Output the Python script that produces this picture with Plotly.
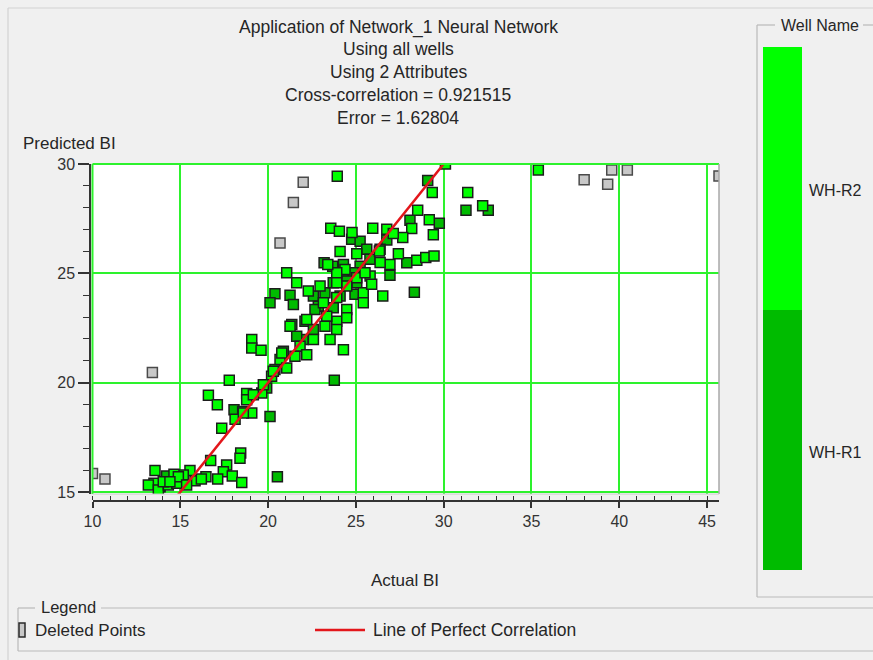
import plotly.graph_objects as go

# ---- data -------------------------------------------------------------
title_lines = [
    "Application of Network_1 Neural Network",
    "Using all wells",
    "Using 2 Attributes",
    "Cross-correlation = 0.921515",
    "Error = 1.62804",
]
x_ticks = [10, 15, 20, 25, 30, 35, 40, 45]
y_ticks = [15, 20, 25, 30]
well_names = ["WH-R2", "WH-R1"]
well_colors = ["#00ff00", "#00bb00"]

# WH-R2 samples (actual BI, predicted BI)
r2_actual = [35.39, 30.1, 31.37, 32.22, 29.35, 28.52, 29.18, 29.41, 28.18, 27.67,
             26.76, 27.13, 27.42, 26.94, 28.47, 28.98, 29.45, 26.38, 26.53, 23.94,
             23.57, 24.06, 24.78, 25.96, 24.1, 25.05, 26.34, 24.38, 23.91, 21.06,
             21.63, 22.29, 22.96, 23.91, 24.48, 25.42, 25.81, 25.42, 24.48, 22.2,
             23.91, 23.34, 25.9, 23.15, 24.48, 23.91, 23.53, 24.29, 21.25, 22.58,
             21.82, 22.2, 21.53, 20.68, 21.06, 20.2, 19.07, 19.07, 19.6, 17.79,
             20.78, 20.3, 19.64, 16.6, 17.11, 18.12, 18.78, 18.78, 19.07, 18.59,
             17.36, 19.16, 19.73, 16.73, 17.64, 18.44, 18.4, 17.45, 17.96, 18.5,
             17.13, 16.46, 15.84, 15.55, 15.17, 14.64, 13.56, 13.5, 13.18, 13.75,
             14.32, 14.8, 14.89, 14.03, 15.36, 16.2, 14.41, 23.24, 23.91, 25.05,
             25.52, 23.4]
r2_predicted = [29.72, 30.0, 28.7, 28.09, 28.7, 27.89, 27.45, 26.76, 27.05, 26.64,
                27.02, 26.82, 25.9, 25.41, 25.6, 25.72, 25.79, 25.5, 23.96, 29.44,
                27.06, 26.93, 26.87, 27.06, 26.0, 25.9, 26.02, 25.18, 25.03, 25.03,
                24.57, 24.19, 24.42, 23.89, 24.42, 24.11, 24.88, 23.66, 23.35, 22.89,
                22.81, 23.04, 24.5, 23.66, 22.97, 22.43, 21.97, 21.51, 22.58, 21.97,
                21.67, 21.28, 21.21, 21.06, 20.67, 20.29, 21.97, 21.59, 21.48, 20.11,
                21.36, 20.52, 19.53, 19.42, 18.99, 18.33, 19.5, 19.22, 18.61, 18.61,
                17.92, 19.45, 19.91, 16.44, 16.24, 16.78, 16.55, 15.93, 15.73, 15.44,
                15.6, 15.7, 15.52, 15.98, 15.78, 15.81, 15.98, 15.4, 15.32, 15.09,
                15.32, 15.4, 15.7, 15.47, 15.32, 15.6, 15.47, 22.58, 24.57, 24.8,
                25.03, 25.41]

# WH-R1 samples
r1_actual = [31.27, 32.54, 29.09, 29.75, 28.08, 26.76, 27.9, 26.94, 28.33, 26.38,
             24.76, 25.24, 25.62, 25.8, 23.19, 23.68, 25.24, 20.39, 20.11, 21.25,
             21.44, 22.58, 23.24, 23.71, 24.29, 25.05, 24.86, 23.71, 22.86, 21.35,
             24.1, 24.95, 22.67, 22.1, 22.0, 20.87, 20.39, 23.77, 21.63, 19.92,
             18.06, 20.11, 18.55, 14.22, 13.85, 20.53, 22.58, 24.48, 24.29]
r1_predicted = [27.88, 27.88, 29.24, 27.29, 27.43, 26.53, 25.49, 24.91, 24.14, 26.1,
                26.56, 26.47, 26.1, 25.64, 25.49, 25.33, 25.33, 24.07, 23.66, 24.0,
                23.58, 23.96, 24.11, 24.57, 24.88, 24.57, 25.03, 23.43, 23.5, 22.66,
                23.96, 24.04, 23.35, 22.81, 21.97, 21.44, 20.6, 20.11, 22.12, 19.76,
                18.76, 18.45, 18.68, 15.73, 15.24, 15.7, 22.43, 24.65, 25.41]

# points removed from training
deleted_actual = [10.0, 10.71, 13.41, 20.68, 21.44, 22.0, 38.0, 39.34, 39.57, 40.46, 45.68]
deleted_predicted = [15.85, 15.6, 20.47, 26.39, 28.24, 29.16, 29.28, 29.07, 29.72, 29.72, 29.45]

perfect_x = [14.85, 30.0]
perfect_y = [14.85, 30.0]

# ---- page geometry (pixels) ------------------------------------------
W, H = 873, 660
PX0, PX1 = 80, 719     # paper area, horizontal
PY0, PY1 = 164, 510    # paper area, vertical


def fx(px):
    return (px - PX0) / (PX1 - PX0)


def fy(py):
    return (PY1 - py) / (PY1 - PY0)


FONT = "Liberation Sans, Arial, sans-serif"
TXT = "#262626"
GRID = "#2df22d"
FRAME = "#b9b9b9"

fig = go.Figure()

marker_line = dict(color="#1c1c1c", width=1.5)
fig.add_trace(go.Scatter(
    x=r1_actual, y=r1_predicted, mode="markers", name=well_names[1],
    marker=dict(symbol="square", size=10, color=well_colors[1], line=marker_line),
))
fig.add_trace(go.Scatter(
    x=r2_actual, y=r2_predicted, mode="markers", name=well_names[0],
    marker=dict(symbol="square", size=10, color=well_colors[0], line=marker_line),
))
fig.add_trace(go.Scatter(
    x=deleted_actual, y=deleted_predicted, mode="markers", name="Deleted Points",
    marker=dict(symbol="square", size=10, color="#c8c8c8",
                line=dict(color="#4a4a4a", width=1.5)),
))
fig.add_trace(go.Scatter(
    x=perfect_x, y=perfect_y, mode="lines", name="Line of Perfect Correlation",
    line=dict(color="#e3161b", width=2.5),
))

axis_common = dict(
    showline=True, linecolor="#333333", linewidth=1.5,
    showgrid=True, gridcolor=GRID, gridwidth=2, zeroline=False,
    tickfont=dict(family=FONT, size=16, color="#333333"),
    tickcolor="#333333", tickwidth=1.5,
)

fig.update_layout(
    width=W, height=H,
    margin=dict(l=PX0, r=W - PX1, t=PY0, b=H - PY1),
    paper_bgcolor="#f0f0f0", plot_bgcolor="white",
    showlegend=False,
    xaxis=dict(
        range=[10, 45.68], domain=[fx(92.5), 1], anchor="free", position=fy(501),
        tickvals=x_ticks, ticks="outside", ticklen=6,
        minor=dict(dtick=1, tick0=10, ticks="inside", ticklen=4,
                   tickcolor="#333333", tickwidth=1.2, showgrid=False),
        **axis_common,
    ),
    yaxis=dict(
        range=[14.91, 30], domain=[fy(494), 1], anchor="free", position=fx(90),
        tickvals=y_ticks, ticks="outside", ticklen=11,
        minor=dict(dtick=1, tick0=15, ticks="outside", ticklen=6,
                   tickcolor="#333333", tickwidth=1.2, showgrid=False),
        **axis_common,
    ),
)

shapes = []


def hline(x0, x1, y, color=FRAME, width=1.2):
    shapes.append(dict(type="line", xref="paper", yref="paper",
                       x0=fx(x0), x1=fx(x1), y0=fy(y), y1=fy(y),
                       line=dict(color=color, width=width)))


def vline(x, y0, y1, color=FRAME, width=1.2):
    shapes.append(dict(type="line", xref="paper", yref="paper",
                       x0=fx(x), x1=fx(x), y0=fy(y0), y1=fy(y1),
                       line=dict(color=color, width=width)))


def rect(x0, x1, y0, y1, fill, line_color=None, width=0):
    shapes.append(dict(type="rect", xref="paper", yref="paper",
                       x0=fx(x0), x1=fx(x1), y0=fy(y1), y1=fy(y0),
                       fillcolor=fill, line=dict(color=line_color or fill, width=width)))


# plot frame: green on the left/top, grey on the right/bottom
shapes.append(dict(type="line", xref="x domain", yref="y domain", x0=0, x1=0, y0=0, y1=1,
                   line=dict(color=GRID, width=2)))
shapes.append(dict(type="line", xref="x domain", yref="y domain", x0=0, x1=1, y0=1, y1=1,
                   line=dict(color=GRID, width=2)))
shapes.append(dict(type="line", xref="x domain", yref="y domain", x0=1, x1=1, y0=0, y1=1,
                   line=dict(color="#a8a8a8", width=1.5)))
shapes.append(dict(type="line", xref="x domain", yref="y domain", x0=0, x1=1, y0=0, y1=0,
                   line=dict(color="#c8c8c8", width=1)))

# window edge
hline(8, 873, 8, color="#d2d2d2")
vline(8, 8, 660, color="#d2d2d2")

# "Well Name" group box with the colour bar
vline(757, 25, 597)
hline(757, 873, 597)
hline(757, 775, 25)
hline(863, 873, 25)
rect(763, 802, 47, 310, well_colors[0])
rect(763, 802, 310, 570, well_colors[1])

# "Legend" group box
hline(18, 35, 608)
hline(101, 873, 608)
vline(18, 608, 651)
hline(18, 873, 651)
rect(19, 25, 623, 637, "#c8c8c8", "#2a2a2a", 1.5)
hline(315, 365, 630, color="#e3161b", width=2.5)

annotations = []


def label(text, px, py, size=17, anchor="center", color=TXT):
    annotations.append(dict(text=text, xref="paper", yref="paper", x=fx(px), y=fy(py),
                            xanchor=anchor, yanchor="middle", showarrow=False,
                            font=dict(family=FONT, size=size, color=color)))


for text, py in zip(title_lines, [27, 49, 72, 95, 118]):
    label(text, 398, py, size=17.5)
label("Predicted BI", 21, 143, anchor="left")
label("Actual BI", 405, 580)
label("Well Name", 779, 25, size=16, anchor="left")
label(well_names[0], 807, 190, size=16, anchor="left")
label(well_names[1], 807, 452, size=16, anchor="left")
label("Legend", 39, 607, size=16.5, anchor="left")
label("Deleted Points", 33, 630, size=17, anchor="left")
label("Line of Perfect Correlation", 371, 630, size=17.5, anchor="left")

fig.update_layout(shapes=shapes, annotations=annotations)
fig.write_html("out.html")
